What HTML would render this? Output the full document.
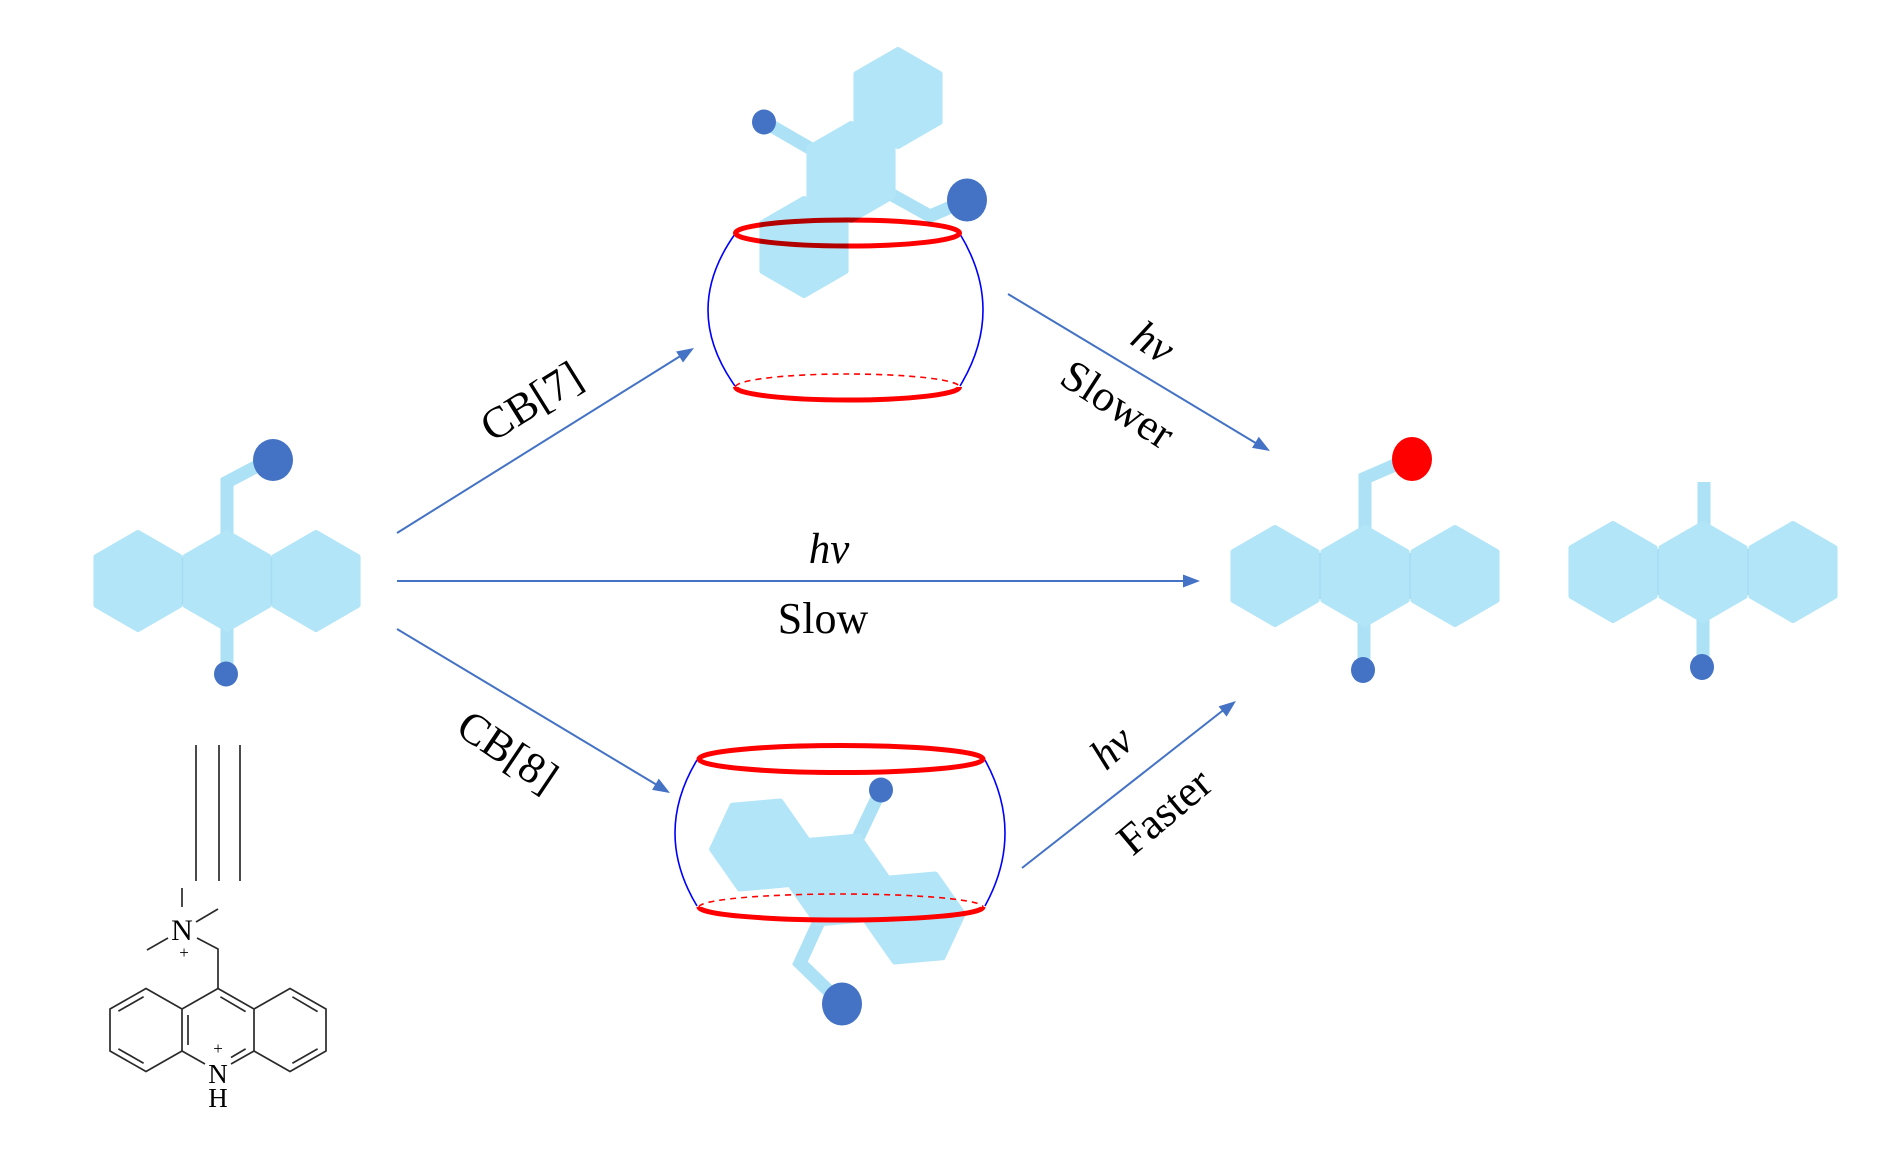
<!DOCTYPE html>
<html>
<head>
<meta charset="utf-8">
<style>
  html,body{margin:0;padding:0;background:#fff;}
  svg{display:block;}
  text{font-family:"Liberation Serif","Times New Roman",serif;fill:#000;}
</style>
</head>
<body>
<svg width="1890" height="1150" viewBox="0 0 1890 1150" xmlns="http://www.w3.org/2000/svg">
  <defs>
    <polygon id="hx" points="0,-48 41.57,-24 41.57,24 0,48 -41.57,24 -41.57,-24" fill="#B2E5F8" stroke="#B2E5F8" stroke-width="6" stroke-linejoin="round"/>
  </defs>
  <rect width="1890" height="1150" fill="#fff"/>

  <!-- ===== Left molecule ===== -->
  <g stroke="#ADE2F6" stroke-width="13" fill="none">
    <polyline points="227,560 227,482 263,463" stroke-linejoin="miter"/>
    <line x1="227" y1="600" x2="227" y2="668"/>
  </g>
  <use href="#hx" x="138" y="581"/>
  <use href="#hx" x="227" y="581"/>
  <use href="#hx" x="316" y="581"/>
  <line x1="182.5" y1="558" x2="182.5" y2="604" stroke="#A6DCF2" stroke-width="1.5"/>
  <line x1="271.5" y1="558" x2="271.5" y2="604" stroke="#A6DCF2" stroke-width="1.5"/>
  <ellipse cx="273" cy="460" rx="20" ry="21" fill="#4472C4"/>
  <ellipse cx="226" cy="674" rx="12" ry="12.5" fill="#4472C4"/>

  <!-- ===== Product 1 ===== -->
  <g stroke="#ADE2F6" stroke-width="13" fill="none">
    <polyline points="1365,560 1365,478 1402,462" stroke-linejoin="miter"/>
    <line x1="1364" y1="600" x2="1364" y2="664"/>
  </g>
  <use href="#hx" x="1275" y="576"/>
  <use href="#hx" x="1365" y="576"/>
  <use href="#hx" x="1455" y="576"/>
  <line x1="1320" y1="553" x2="1320" y2="599" stroke="#A6DCF2" stroke-width="1.5"/>
  <line x1="1410" y1="553" x2="1410" y2="599" stroke="#A6DCF2" stroke-width="1.5"/>
  <ellipse cx="1412" cy="459" rx="20" ry="22" fill="#FF0000"/>
  <ellipse cx="1363" cy="670" rx="12" ry="13" fill="#4472C4"/>

  <!-- ===== Product 2 ===== -->
  <g stroke="#ADE2F6" stroke-width="13" fill="none">
    <line x1="1704" y1="560" x2="1704" y2="482"/>
    <line x1="1703" y1="600" x2="1703" y2="662"/>
  </g>
  <use href="#hx" x="1613" y="572"/>
  <use href="#hx" x="1703" y="572"/>
  <use href="#hx" x="1793" y="572"/>
  <line x1="1658" y1="549" x2="1658" y2="595" stroke="#A6DCF2" stroke-width="1.5"/>
  <line x1="1748" y1="549" x2="1748" y2="595" stroke="#A6DCF2" stroke-width="1.5"/>
  <ellipse cx="1702" cy="667" rx="12" ry="13" fill="#4472C4"/>

  <!-- ===== Top cage (CB[7]) ===== -->
  <g>
    <path d="M735,234 Q681,310 735,386" fill="none" stroke="#0000FF" stroke-width="1.6"/>
    <path d="M960,234 Q1006,310 960,386" fill="none" stroke="#0000FF" stroke-width="1.6"/>
    <ellipse cx="847.5" cy="233" rx="112" ry="13" fill="none" stroke="#FF0000" stroke-width="5"/>
    <path d="M735.5,387 A112,13 0 0 1 959.5,387" fill="none" stroke="#FF0000" stroke-width="1.6" stroke-dasharray="6,5"/>
    <path d="M735.5,387 A112,13 0 0 0 959.5,387" fill="none" stroke="#FF0000" stroke-width="5"/>
  </g>
  <g style="mix-blend-mode:multiply">
    <g stroke="#ADE2F6" stroke-width="13" fill="none">
      <line x1="851" y1="172" x2="768" y2="124"/>
      <polyline points="851,172 930,216 958,204" stroke-linejoin="miter"/>
    </g>
    <use href="#hx" x="898" y="98"/>
    <use href="#hx" x="851" y="172"/>
    <use href="#hx" x="804" y="247"/>
    <ellipse cx="764" cy="122" rx="12" ry="12.5" fill="#4472C4"/>
    <ellipse cx="967" cy="200" rx="20" ry="21.5" fill="#4472C4"/>
  </g>

  <!-- ===== Bottom cage (CB[8]) ===== -->
  <g>
    <g stroke="#ADE2F6" stroke-width="13" fill="none">
      <line x1="838" y1="880" x2="879" y2="794"/>
      <polyline points="838,880 800,963 838,1000" stroke-linejoin="miter"/>
    </g>
    <use href="#hx" transform="translate(760,845) rotate(25)"/>
    <use href="#hx" transform="translate(838,880) rotate(25)"/>
    <use href="#hx" transform="translate(915,918) rotate(25)"/>
    <ellipse cx="881" cy="790" rx="12" ry="12.5" fill="#4472C4"/>
    <ellipse cx="842" cy="1004" rx="20" ry="21.5" fill="#4472C4"/>
  </g>
  <g>
    <path d="M697,760 Q653,833 697,906" fill="none" stroke="#0000FF" stroke-width="1.6"/>
    <path d="M985,760 Q1025,833 985,906" fill="none" stroke="#0000FF" stroke-width="1.6"/>
    <ellipse cx="841" cy="759" rx="142" ry="13.5" fill="none" stroke="#FF0000" stroke-width="5"/>
    <path d="M699,907 A142,13 0 0 1 983,907" fill="none" stroke="#FF0000" stroke-width="1.6" stroke-dasharray="6,5"/>
    <path d="M699,907 A142,13 0 0 0 983,907" fill="none" stroke="#FF0000" stroke-width="5"/>
  </g>

  <!-- ===== Arrows ===== -->
  <g stroke="#4472C4" stroke-width="2" fill="none">
    <line x1="397" y1="533" x2="682" y2="355"/>
    <line x1="397" y1="581" x2="1186" y2="581"/>
    <line x1="397" y1="629" x2="657" y2="785"/>
    <line x1="1008" y1="294" x2="1259" y2="445"/>
    <line x1="1022" y1="868" x2="1226" y2="708"/>
  </g>
  <g fill="#4472C4">
    <polygon transform="translate(694,348) rotate(-31.9)" points="0,0 -17,-6.5 -17,6.5"/>
    <polygon transform="translate(1200,581)" points="0,0 -17,-6.5 -17,6.5"/>
    <polygon transform="translate(670,793) rotate(31)" points="0,0 -17,-6.5 -17,6.5"/>
    <polygon transform="translate(1270,451) rotate(30.9)" points="0,0 -17,-6.5 -17,6.5"/>
    <polygon transform="translate(1236,701) rotate(-38)" points="0,0 -17,-6.5 -17,6.5"/>
  </g>

  <!-- ===== Labels ===== -->
  <text transform="translate(531,401) rotate(-32)" x="0" y="15" font-size="44" text-anchor="middle">CB[7]</text>
  <text x="829" y="563" font-size="43" font-style="italic" text-anchor="middle">hv</text>
  <text x="823" y="633" font-size="44" text-anchor="middle">Slow</text>
  <text transform="translate(508,751) rotate(34)" x="0" y="15" font-size="44" text-anchor="middle">CB[8]</text>
  <text transform="translate(1152,344) rotate(33)" x="0" y="12" font-size="43" font-style="italic" text-anchor="middle">hv</text>
  <text transform="translate(1118,404) rotate(33)" x="0" y="15" font-size="44" text-anchor="middle">Slower</text>
  <text transform="translate(1113,749) rotate(-42)" x="0" y="12" font-size="43" font-style="italic" text-anchor="middle">hv</text>
  <text transform="translate(1164,811) rotate(-40)" x="0" y="15" font-size="44" text-anchor="middle">Faster</text>

  <!-- ===== Chemical structure ===== -->
  <g stroke="#2a2a2a" stroke-width="1.7" fill="none" stroke-linecap="butt">
    <line x1="196" y1="745" x2="196" y2="881"/>
    <line x1="219" y1="745" x2="219" y2="881"/>
    <line x1="240" y1="745" x2="240" y2="881"/>
    <line x1="182" y1="888" x2="182" y2="907"/>
    <line x1="196" y1="922" x2="218" y2="909"/>
    <line x1="168" y1="938" x2="147" y2="950"/>
    <polyline points="197,938 218,949 218,988.5"/>
    <polyline points="182,1009 146,988.5 110,1009 110,1051 146,1071.5 182,1051 182,1009"/>
    <polyline points="205,1064 182,1051"/>
    <polyline points="182,1009 218,988.5 254,1009 254,1051 231,1064"/>
    <polyline points="254,1009 290,988.5 326,1009 326,1051 290,1071.5 254,1051"/>
    <line x1="118.4" y1="1011.1" x2="143.6" y2="996.8"/>
    <line x1="118.4" y1="1048.9" x2="143.6" y2="1063.2"/>
    <line x1="188" y1="1015" x2="188" y2="1045"/>
    <line x1="220.4" y1="996.8" x2="245.6" y2="1011.6"/>
    <line x1="245.6" y1="1048.9" x2="231" y2="1057.5"/>
    <line x1="292.4" y1="996.8" x2="317.6" y2="1011.6"/>
    <line x1="317.6" y1="1048.9" x2="292.4" y2="1063.2"/>
  </g>
  <g fill="#2a2a2a">
    <text x="182" y="940" font-size="30" text-anchor="middle">N</text>
    <text x="184" y="958" font-size="17" text-anchor="middle">+</text>
    <text x="218" y="1054" font-size="17" text-anchor="middle">+</text>
    <text x="218" y="1083" font-size="27" text-anchor="middle">N</text>
    <text x="218" y="1107" font-size="27" text-anchor="middle">H</text>
  </g>
</svg>
</body>
</html>
